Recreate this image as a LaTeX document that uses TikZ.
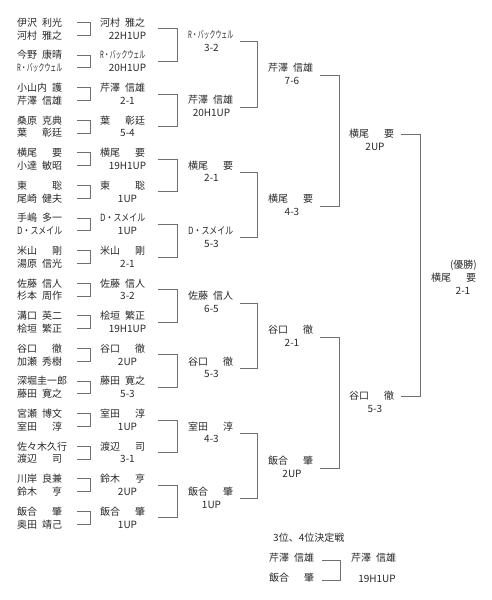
\documentclass[tikz,border=0pt]{standalone}
\usepackage{fontspec}
\setmainfont{Noto Sans CJK JP}
\usepackage{graphicx}
\definecolor{lncol}{HTML}{707070}
\definecolor{txcol}{HTML}{2A2A2A}
\newcommand\nm[2]{\makebox[45pt][l]{#1\hfill #2}}
\newcommand\nf[1]{\makebox[45pt][l]{#1}}
\newcommand\kt[1]{\resizebox{45pt}{\height}{#1}}
\tikzset{
  pname/.style={anchor=west, inner sep=0pt, text height=8.8pt, text depth=1.2pt, text=txcol, font=\fontsize{10}{12}\selectfont},
  pscore/.style={anchor=center, inner sep=0pt, text height=8.8pt, text depth=1.2pt, text=txcol, font=\fontsize{10}{12}\selectfont},
  conn/.style={draw=lncol, line width=0.9pt}
}
\begin{document}
\begin{tikzpicture}[x=1pt,y=-1pt]
\fill[white] (0,0) rectangle (491,600);
\useasboundingbox (0,0) rectangle (491,600);
% ---- round 1 ----
\foreach \k/\a/\b/\w/\s in {
 0/{\nm{伊沢}{利光}}/{\nm{河村}{雅之}}/{\nm{河村}{雅之}}/22H1UP,
 1/{\nm{今野}{康晴}}/{\kt{R・バックウェル}}/{\kt{R・バックウェル}}/20H1UP,
 2/{\nm{小山内}{護}}/{\nm{芹澤}{信雄}}/{\nm{芹澤}{信雄}}/2-1,
 3/{\nm{桑原}{克典}}/{\nm{葉}{彰廷}}/{\nm{葉}{彰廷}}/5-4,
 4/{\nm{横尾}{要}}/{\nm{小達}{敏昭}}/{\nm{横尾}{要}}/19H1UP,
 5/{\nm{東}{聡}}/{\nm{尾崎}{健夫}}/{\nm{東}{聡}}/1UP,
 6/{\nm{手嶋}{多一}}/{\kt{D・スメイル}}/{\kt{D・スメイル}}/1UP,
 7/{\nm{米山}{剛}}/{\nm{湯原}{信光}}/{\nm{米山}{剛}}/2-1,
 8/{\nm{佐藤}{信人}}/{\nm{杉本}{周作}}/{\nm{佐藤}{信人}}/3-2,
 9/{\nm{溝口}{英二}}/{\nm{桧垣}{繁正}}/{\nm{桧垣}{繁正}}/19H1UP,
 10/{\nm{谷口}{徹}}/{\nm{加瀬}{秀樹}}/{\nm{谷口}{徹}}/2UP,
 11/{\nf{深堀圭一郎}}/{\nm{藤田}{寛之}}/{\nm{藤田}{寛之}}/5-3,
 12/{\nm{宮瀬}{博文}}/{\nm{室田}{淳}}/{\nm{室田}{淳}}/1UP,
 13/{\nf{佐々木久行}}/{\nm{渡辺}{司}}/{\nm{渡辺}{司}}/3-1,
 14/{\nm{川岸}{良兼}}/{\nm{鈴木}{亨}}/{\nm{鈴木}{亨}}/2UP,
 15/{\nm{飯合}{肇}}/{\nm{奥田}{靖己}}/{\nm{飯合}{肇}}/1UP}{
  \pgfmathsetmacro\yt{22.5+32.6*\k}
  \node[pname] (pa\k) at (17,\yt) {\a};
  \node[pname] (pb\k) at (17,\yt+12.8) {\b};
  \draw[conn] ([xshift=15pt]pa\k.east) -- ([xshift=28pt]pa\k.east) |- ([xshift=15pt]pb\k.east);
  \node[pname] (wa\k) at (100,\yt) {\w};
  \node[pscore] (wb\k) at (127.5,\yt+12.8) {\s};
}
% ---- round 2 ----
\foreach \m/\w/\s in {
 0/{\kt{R・バックウェル}}/3-2,
 1/{\nm{芹澤}{信雄}}/20H1UP,
 2/{\nm{横尾}{要}}/2-1,
 3/{\kt{D・スメイル}}/5-3,
 4/{\nm{佐藤}{信人}}/6-5,
 5/{\nm{谷口}{徹}}/5-3,
 6/{\nm{室田}{淳}}/4-3,
 7/{\nm{飯合}{肇}}/1UP}{
  \pgfmathtruncatemacro\ka{2*\m}
  \pgfmathtruncatemacro\kb{2*\m+1}
  \pgfmathsetmacro\yt{34.8+65.3*\m}
  \draw[conn] ([shift={(13pt,-6.4pt)}]wa\ka.east) -- ([shift={(32pt,-6.4pt)}]wa\ka.east) |- ([shift={(13pt,-6.4pt)}]wa\kb.east);
  \node[pname] (ra\m) at (188,\yt) {\w};
  \node[pscore] (rb\m) at (211.5,\yt+12.5) {\s};
}
% ---- round 3 ----
\foreach \j/\w/\s in {
 0/{\nm{芹澤}{信雄}}/7-6,
 1/{\nm{横尾}{要}}/4-3,
 2/{\nm{谷口}{徹}}/2-1,
 3/{\nm{飯合}{肇}}/2UP}{
  \pgfmathtruncatemacro\ma{2*\j}
  \pgfmathtruncatemacro\mb{2*\j+1}
  \pgfmathsetmacro\yt{68+131*\j}
  \draw[conn] ([shift={(7pt,-7pt)}]ra\ma.east) -- ([shift={(24pt,-7pt)}]ra\ma.east) |- ([shift={(7pt,-7pt)}]ra\mb.east);
  \node[pname] (sa\j) at (268,\yt) {\w};
  \node[pscore] (sb\j) at (292,\yt+12.5) {\s};
}
% ---- round 4 ----
\foreach \i/\w/\s in {
 0/{\nm{横尾}{要}}/2UP,
 1/{\nm{谷口}{徹}}/5-3}{
  \pgfmathtruncatemacro\ja{2*\i}
  \pgfmathtruncatemacro\jb{2*\i+1}
  \pgfmathsetmacro\yt{134+262*\i}
  \draw[conn] ([shift={(7pt,-7pt)}]sa\ja.east) -- ([shift={(26.5pt,-7pt)}]sa\ja.east) |- ([shift={(7pt,-7pt)}]sa\jb.east);
  \node[pname] (ta\i) at (349,\yt) {\w};
  \node[pscore] (tb\i) at (375,\yt+12.5) {\s};
}
% ---- final ----
\draw[conn] ([xshift=7pt]ta0.east) -- ([xshift=26pt]ta0.east) |- ([xshift=7pt]ta1.east);
\node[pname, anchor=east] (champlbl) at (477,265) {(優勝)};
\node[pname] (champ) at (431,278) {\nm{横尾}{要}};
\node[pscore] (champsc) at (463,291) {2-1};
% ---- 3rd place ----
\node[pname] (thirdlbl) at (273,538) {3位、4位決定戦};
\node[pname] (qa) at (269,558) {\nm{芹澤}{信雄}};
\node[pname] (qb) at (269,578) {\nm{飯合}{肇}};
\draw[conn] ([shift={(8pt,-2pt)}]qa.east) -- ([shift={(26pt,-2pt)}]qa.east) |- ([shift={(8pt,-2pt)}]qb.east);
\node[pname] (qw) at (351,558) {\nm{芹澤}{信雄}};
\node[pscore] (qs) at (377,579) {19H1UP};
\end{tikzpicture}
\end{document}
